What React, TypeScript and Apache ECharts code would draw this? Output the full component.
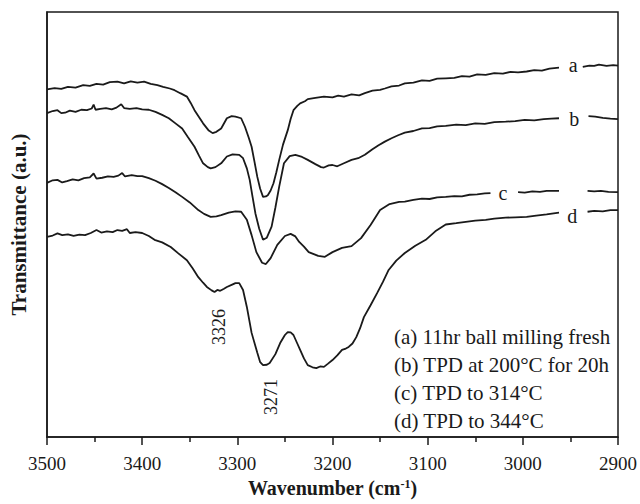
import React, { useEffect, useRef } from "react";
import * as echarts from "echarts";

// FTIR spectra in the N–H stretching region, [wavenumber (cm-1), transmittance (a.u.)]
// null entries break the trace where the curve letter sits.
const curveA: [number, number | null][] = [
  [3500, 81.8], [3492, 82.1], [3485, 81.9], [3478, 82.4], [3470, 82.2], [3462, 82.8],
  [3455, 82.6], [3448, 83.1], [3441, 82.9], [3434, 83.5], [3426, 83.6], [3419, 83.2],
  [3412, 83.7], [3405, 83.4], [3398, 83.6], [3391, 83.1], [3384, 82.8], [3378, 82.4],
  [3371, 82.0], [3366, 81.6], [3360, 80.9], [3353, 80.1], [3349, 78.6], [3345, 76.9],
  [3340, 75.2], [3336, 73.8], [3330, 72.1], [3326, 71.5], [3322, 71.8], [3317, 72.6],
  [3311, 75.0], [3306, 75.5], [3302, 75.4], [3296, 75.0], [3292, 73.0], [3288, 70.4],
  [3285, 68.3], [3282, 64.8], [3279, 61.2], [3276, 58.4], [3273, 56.5], [3270, 56.6],
  [3268, 56.9], [3265, 58.0], [3262, 59.7], [3259, 62.3], [3256, 65.2], [3252, 68.8],
  [3247, 72.2], [3244, 74.8], [3241, 76.9], [3237, 77.9], [3234, 78.5], [3229, 79.0],
  [3226, 79.5], [3218, 79.8], [3209, 80.1], [3200, 79.9], [3194, 80.3], [3188, 80.1],
  [3180, 80.6], [3172, 80.4], [3166, 80.9], [3158, 81.5], [3150, 81.7], [3145, 82.0],
  [3138, 82.5], [3130, 82.7], [3124, 83.2], [3115, 83.4], [3106, 83.9], [3098, 83.8],
  [3090, 84.3], [3081, 84.4], [3072, 84.5], [3064, 84.9], [3056, 84.8], [3048, 85.3],
  [3039, 85.2], [3030, 85.6], [3021, 85.5], [3013, 85.9], [3005, 85.8], [2996, 86.0],
  [2988, 86.3], [2980, 86.2], [2972, 86.7], [2962, 86.9], [2955, null],
  [2937, 87.1], [2930, 87.4], [2925, 87.3], [2920, 87.6], [2912, 87.3], [2905, 87.5], [2900, 87.4],
];

const curveB: [number, number | null][] = [
  [3500, 76.2], [3494, 76.7], [3489, 76.9], [3485, 76.2], [3481, 76.3], [3476, 76.8],
  [3470, 76.5], [3464, 77.0], [3458, 76.9], [3453, 77.3], [3451, 78.2], [3449, 77.0],
  [3444, 77.2], [3438, 77.4], [3432, 77.1], [3427, 77.5], [3422, 78.3], [3419, 77.4],
  [3413, 77.2], [3406, 77.4], [3400, 77.1], [3393, 77.0], [3386, 76.5], [3379, 75.8],
  [3372, 75.0], [3365, 73.8], [3358, 72.6], [3352, 70.6], [3345, 68.3], [3340, 66.1],
  [3336, 64.4], [3331, 63.5], [3328, 63.2], [3323, 63.5], [3317, 64.4], [3311, 66.0],
  [3305, 66.5], [3298, 66.4], [3294, 65.6], [3290, 63.2], [3287, 60.5], [3284, 56.5],
  [3281, 52.6], [3277, 49.0], [3273, 46.4], [3269, 46.9], [3264, 49.5], [3260, 54.0],
  [3256, 58.9], [3251, 64.4], [3245, 66.1], [3239, 66.4], [3232, 65.9], [3226, 65.2],
  [3218, 64.2], [3212, 63.5], [3209, 63.4], [3204, 63.9], [3200, 64.0], [3195, 63.7],
  [3188, 64.4], [3180, 65.2], [3173, 65.6], [3166, 66.4], [3158, 67.7], [3152, 68.6],
  [3145, 69.5], [3138, 70.3], [3131, 71.0], [3124, 71.6], [3115, 72.0], [3106, 72.6],
  [3098, 72.7], [3090, 73.1], [3081, 73.2], [3070, 73.5], [3060, 73.4], [3050, 73.8],
  [3040, 73.7], [3030, 74.1], [3018, 74.2], [3008, 74.3], [2998, 74.6], [2988, 74.5],
  [2978, 74.8], [2970, 74.9], [2962, 75.0], [2950, null],
  [2931, 75.5], [2924, 75.4], [2916, 75.1], [2908, 74.9], [2900, 74.8],
];

const curveC: [number, number | null][] = [
  [3500, 59.8], [3494, 60.4], [3489, 60.5], [3484, 59.9], [3479, 60.2], [3473, 60.6],
  [3467, 60.4], [3461, 60.9], [3455, 61.1], [3451, 62.0], [3448, 60.8], [3442, 61.0],
  [3436, 61.3], [3430, 61.2], [3425, 61.5], [3421, 62.1], [3418, 61.3], [3411, 61.6],
  [3405, 61.4], [3400, 61.4], [3393, 60.9], [3386, 60.3], [3379, 59.5], [3372, 58.6],
  [3365, 57.6], [3358, 56.5], [3350, 55.2], [3341, 53.4], [3335, 52.5], [3328, 51.8],
  [3322, 51.9], [3317, 52.2], [3309, 52.8], [3302, 53.1], [3296, 53.0], [3290, 51.1],
  [3285, 47.5], [3280, 43.5], [3274, 41.0], [3270, 40.7], [3265, 42.1], [3258, 45.2],
  [3250, 47.3], [3244, 47.8], [3239, 47.2], [3235, 45.9], [3230, 44.8], [3225, 43.5],
  [3215, 42.6], [3208, 42.4], [3200, 43.5], [3190, 44.5], [3180, 44.9], [3170, 46.8],
  [3160, 49.9], [3150, 53.4], [3140, 54.8], [3130, 55.3], [3124, 55.4], [3115, 55.8],
  [3106, 56.1], [3098, 56.0], [3090, 56.4], [3081, 56.5], [3072, 56.7], [3064, 56.6],
  [3056, 57.0], [3048, 57.1], [3040, 57.3], [3034, 57.4], [3020, null],
  [3005, 57.6], [2998, 57.5], [2990, 57.8], [2982, 57.7], [2975, 57.9], [2962, 57.9], [2950, null],
  [2932, 57.9], [2925, 57.8], [2918, 57.9], [2910, 57.7], [2900, 57.6],
];

const curveD: [number, number | null][] = [
  [3500, 47.1], [3494, 47.4], [3489, 47.9], [3484, 47.5], [3478, 47.7], [3472, 47.3],
  [3466, 47.6], [3460, 47.5], [3454, 48.0], [3448, 48.7], [3443, 48.1], [3437, 48.4],
  [3431, 48.2], [3426, 48.7], [3421, 48.5], [3416, 48.9], [3413, 48.0], [3407, 48.2],
  [3400, 48.0], [3393, 47.3], [3387, 46.4], [3379, 45.8], [3370, 44.7], [3362, 43.2],
  [3353, 41.6], [3347, 39.7], [3341, 37.6], [3336, 36.3], [3332, 35.3], [3327, 34.5],
  [3324, 34.1], [3321, 34.6], [3318, 34.4], [3314, 34.9], [3311, 35.3], [3306, 35.8],
  [3302, 36.2], [3298, 36.2], [3294, 34.6], [3290, 30.6], [3285, 24.5], [3279, 19.8],
  [3276, 17.6], [3273, 16.9], [3269, 17.0], [3266, 17.4], [3260, 19.5], [3255, 22.1],
  [3250, 24.0], [3247, 24.7], [3244, 24.6], [3241, 24.0], [3237, 22.0], [3234, 20.5],
  [3230, 18.5], [3226, 16.9], [3221, 16.4], [3217, 16.2], [3213, 16.6], [3209, 16.5],
  [3205, 17.2], [3200, 18.1], [3195, 19.2], [3190, 20.5], [3186, 20.8], [3183, 21.2],
  [3179, 22.0], [3175, 23.5], [3171, 25.6], [3167, 28.2], [3160, 31.0], [3153, 33.9],
  [3147, 36.5], [3141, 39.3], [3133, 41.5], [3124, 43.3], [3113, 45.0], [3102, 46.4],
  [3092, 48.4], [3081, 50.0], [3070, 50.3], [3060, 50.6], [3050, 50.9], [3039, 51.1],
  [3030, 51.4], [3018, 51.6], [3008, 51.7], [2996, 51.8], [2986, 52.1], [2975, 52.4],
  [2962, 52.8], [2950, null],
  [2932, 53.0], [2925, 53.2], [2916, 53.1], [2908, 53.4], [2900, 53.4],
];

const seriesNames = [
  "(a) 11hr ball milling fresh",
  "(b) TPD at 200°C for 20h",
  "(c) TPD to 314°C",
  "(d) TPD to 344°C",
];
const curveLetters = ["a", "b", "c", "d"];
// where each letter sits: [wavenumber, transmittance]
const letterPositions: [number, number][] = [
  [2947, 87.5],
  [2946, 74.8],
  [3021, 57.4],
  [2948, 52.0],
];
// peak assignments written beside trace d
const peakLabels = ["3326", "3271"];
const peakLabelPositions: [number, number][] = [
  [3319, 25.9],
  [3265, 9.4],
];

const xTickMin = 2900;
const xTickMax = 3500;
const xTickStep = 100;

const SERIF = "'Liberation Serif', 'Times New Roman', serif";
const INK = "#1a1a1a";

export default function App() {
  const ref = useRef<HTMLDivElement>(null);

  useEffect(() => {
    if (!ref.current) return;
    const chart = echarts.init(ref.current, undefined, { renderer: "svg" });

    const curves = [curveA, curveB, curveC, curveD];

    const series: any[] = curves.map((data, i) => {
      const s: any = {
        name: seriesNames[i],
        type: "line",
        data,
        showSymbol: false,
        connectNulls: false,
        silent: true,
        lineStyle: { color: INK, width: 1.8 },
        itemStyle: { color: INK },
        markPoint: {
          silent: true,
          symbol: "rect",
          symbolSize: 1,
          itemStyle: { color: "rgba(0,0,0,0)" },
          label: {
            show: true,
            position: "inside",
            color: INK,
            fontFamily: SERIF,
            fontSize: 20,
          },
          data: [
            { coord: letterPositions[i], value: curveLetters[i], label: { formatter: curveLetters[i] } },
          ],
        },
      };
      if (i === 3) {
        peakLabels.forEach((txt, k) => {
          s.markPoint.data.push({
            coord: peakLabelPositions[k],
            value: txt,
            label: { formatter: txt, rotate: 90, fontSize: 18 },
          });
        });
      }
      return s;
    });

    chart.setOption({
      animation: false,
      backgroundColor: "#ffffff",
      grid: {
        left: 47,
        right: 17,
        top: 12,
        bottom: 67,
        show: true,
        borderColor: INK,
        borderWidth: 1.5,
      },
      legend: {
        data: seriesNames,
        orient: "vertical",
        left: 389,
        top: 326,
        padding: 0,
        icon: "none",
        itemWidth: 0,
        itemHeight: 14,
        itemGap: 7,
        selectedMode: false,
        textStyle: { color: INK, fontFamily: SERIF, fontSize: 21, lineHeight: 20 },
      },
      xAxis: {
        type: "value",
        inverse: true,
        min: xTickMin,
        max: xTickMax,
        interval: xTickStep,
        name: "Wavenumber (cm{sup|-1})",
        nameLocation: "middle",
        nameGap: 40,
        nameTextStyle: {
          color: INK,
          fontFamily: SERIF,
          fontSize: 20,
          fontWeight: "bold",
          rich: {
            sup: {
              fontFamily: SERIF,
              fontSize: 12,
              fontWeight: "bold",
              color: INK,
              verticalAlign: "top",
              padding: [0, 0, 8, 0],
            },
          },
        },
        axisLine: { show: true, lineStyle: { color: INK, width: 1.5 } },
        axisTick: { show: true, inside: false, length: 8, lineStyle: { color: INK, width: 1.5 } },
        minorTick: { show: true, splitNumber: 2, length: 5, lineStyle: { color: INK, width: 1.5 } },
        axisLabel: {
          color: INK,
          fontFamily: SERIF,
          fontSize: 19,
          margin: 17,
          formatter: (v: number) => String(v),
        },
        splitLine: { show: false },
        minorSplitLine: { show: false },
      },
      yAxis: {
        type: "value",
        min: 0,
        max: 100,
        name: "Transmittance (a.u.)",
        nameLocation: "middle",
        nameGap: 18,
        nameTextStyle: { color: INK, fontFamily: SERIF, fontSize: 21, fontWeight: "bold" },
        axisLine: { show: true, lineStyle: { color: INK, width: 1.5 } },
        axisTick: { show: false },
        axisLabel: { show: false },
        splitLine: { show: false },
      },
      series,
    });

    return () => chart.dispose();
  }, []);

  // pinned to the page corner so the body margin does not push the chart off-screen
  return (
    <div
      ref={ref}
      style={{ position: "fixed", left: 0, top: 0, width: 640, height: 504 }}
    />
  );
}
